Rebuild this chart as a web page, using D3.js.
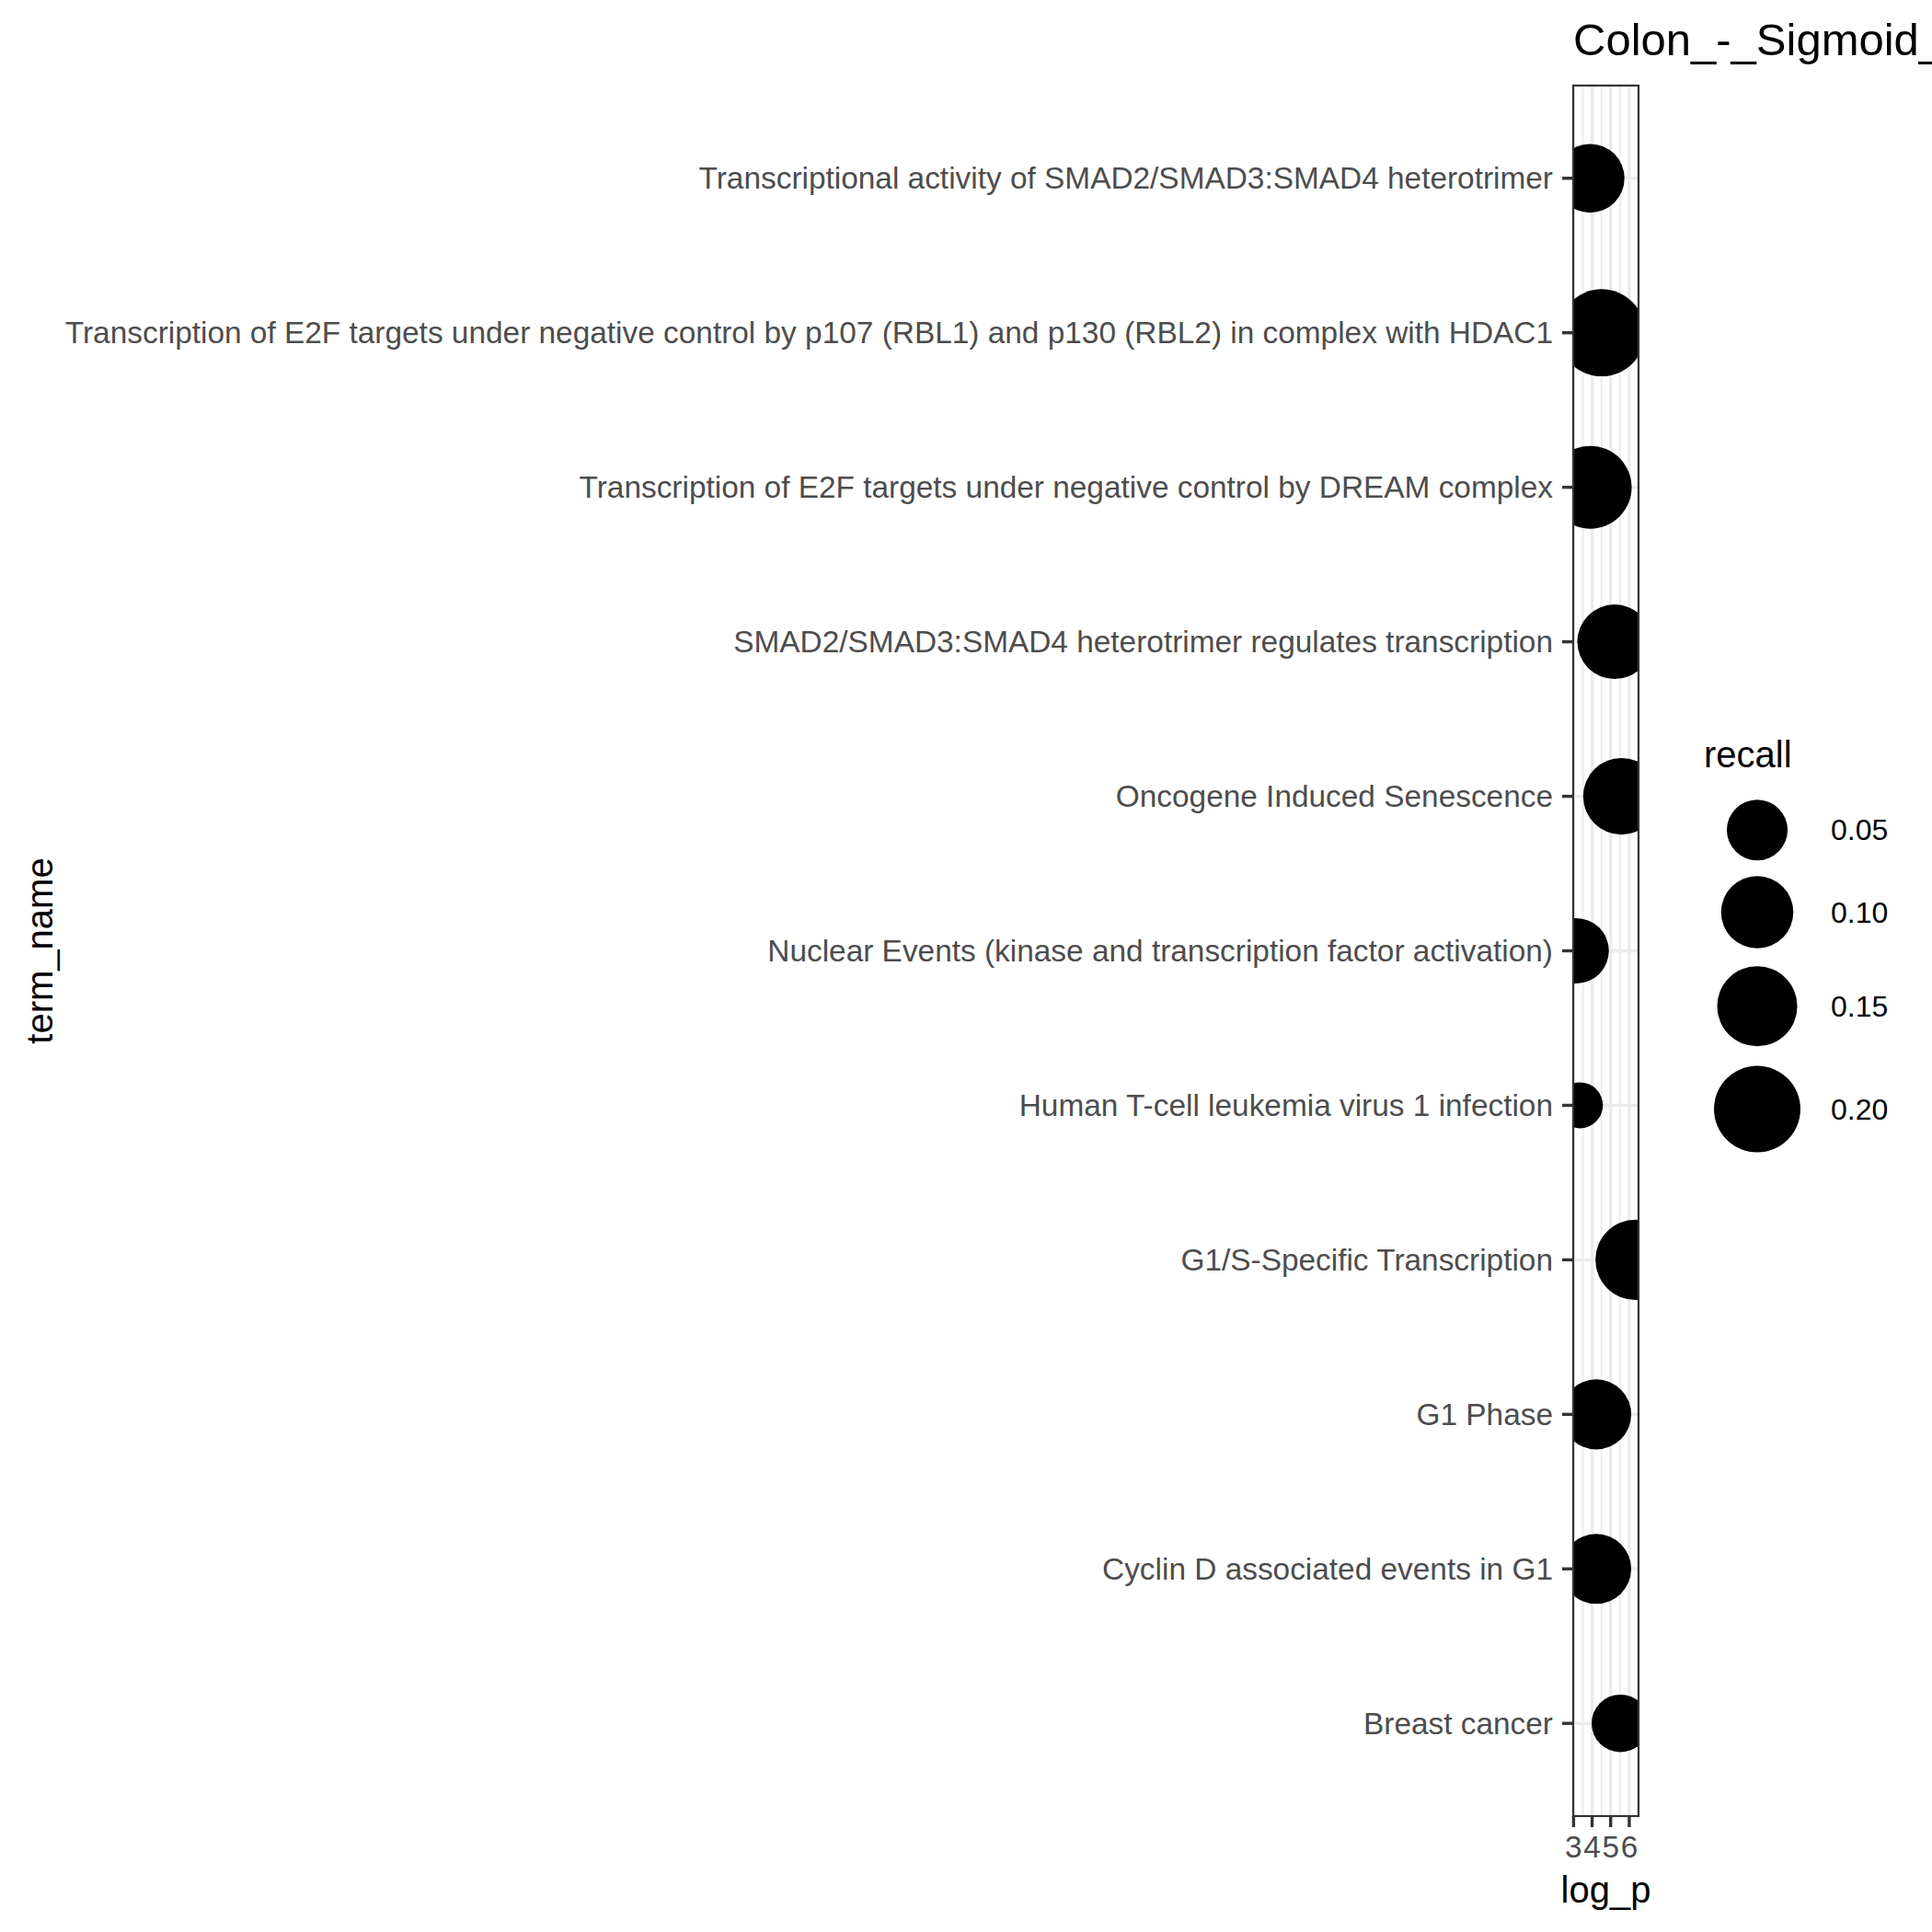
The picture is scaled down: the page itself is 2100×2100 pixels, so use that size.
<!DOCTYPE html>
<html>
<head>
<meta charset="utf-8">
<script src="https://cdn.jsdelivr.net/npm/d3@7"></script>
<style>
  html, body { margin: 0; padding: 0; background: #ffffff; }
  svg { display: block; }
  text { font-family: "Liberation Sans", Arial, Helvetica, sans-serif; }
</style>
</head>
<body>
<script>
// ---- data ----
const termNames = [
  "Transcriptional activity of SMAD2/SMAD3:SMAD4 heterotrimer",
  "Transcription of E2F targets under negative control by p107 (RBL1) and p130 (RBL2) in complex with HDAC1",
  "Transcription of E2F targets under negative control by DREAM complex",
  "SMAD2/SMAD3:SMAD4 heterotrimer regulates transcription",
  "Oncogene Induced Senescence",
  "Nuclear Events (kinase and transcription factor activation)",
  "Human T-cell leukemia virus 1 infection",
  "G1/S-Specific Transcription",
  "G1 Phase",
  "Cyclin D associated events in G1",
  "Breast cancer"
];
const logP   = [3.89, 4.51, 3.90, 5.21, 5.58, 3.14, 3.34, 6.34, 4.22, 4.22, 5.52];
const recall = [0.082, 0.206, 0.170, 0.113, 0.126, 0.067, 0.027, 0.151, 0.088, 0.088, 0.041];
const xTicks = [3, 4, 5, 6];
const legendBreaks = [0.05, 0.10, 0.15, 0.20];
const legendLabels = ["0.05", "0.10", "0.15", "0.20"];
const chartTitle = "Colon_-_Sigmoid_";
const xTitle = "log_p";
const yTitle = "term_name";
const sizeTitle = "recall";

// ---- layout ----
const W = 2100, H = 2100;
const panel = { left: 1710, right: 1781, top: 93, bottom: 1974 };
const axisFont = 33.4;

const svg = d3.select("body").append("svg")
  .attr("width", W).attr("height", H)
  .attr("viewBox", `0 0 ${W} ${H}`);

// x scale with ggplot-like 5% expansion
const [xmin, xmax] = d3.extent(logP);
const xpad = (xmax - xmin) * 0.05;
const x = d3.scaleLinear()
  .domain([xmin - xpad, xmax + xpad])
  .range([panel.left, panel.right]);

// discrete y with 0.6 expansion
const n = termNames.length;
const yIdx = d3.scaleLinear()
  .domain([-0.6, n - 1 + 0.6])
  .range([panel.top, panel.bottom]);
const y = name => yIdx(termNames.indexOf(name));

// size scale: area-proportional over data range (ggplot scale_size)
const [rmin, rmax] = [25, 47.35];
const rescale = d3.scaleLinear().domain(d3.extent(recall)).range([0, 1]);
const rScale = d3.scaleSqrt().domain([0, 1]).range([rmin, rmax]);
const r = v => rScale(Math.max(0, rescale(v)));

// panel background
svg.append("rect")
  .attr("x", panel.left).attr("y", panel.top)
  .attr("width", panel.right - panel.left).attr("height", panel.bottom - panel.top)
  .attr("fill", "#ffffff");

const grid = svg.append("g");
// minor vertical gridlines
const minorTicks = [];
const dom = x.domain();
for (let v = Math.ceil(dom[0] * 2) / 2; v <= dom[1]; v += 0.5) {
  if (Math.abs(v - Math.round(v)) > 1e-6) minorTicks.push(v);
}
grid.selectAll("line.minor").data(minorTicks).join("line")
  .attr("class", "minor")
  .attr("x1", d => x(d)).attr("x2", d => x(d))
  .attr("y1", panel.top).attr("y2", panel.bottom)
  .attr("stroke", "#EBEBEB").attr("stroke-width", 1.8);
// major vertical gridlines
grid.selectAll("line.majx").data(xTicks).join("line")
  .attr("class", "majx")
  .attr("x1", d => x(d)).attr("x2", d => x(d))
  .attr("y1", panel.top).attr("y2", panel.bottom)
  .attr("stroke", "#EBEBEB").attr("stroke-width", 3.5);
// major horizontal gridlines
grid.selectAll("line.majy").data(termNames).join("line")
  .attr("class", "majy")
  .attr("x1", panel.left).attr("x2", panel.right)
  .attr("y1", d => y(d)).attr("y2", d => y(d))
  .attr("stroke", "#EBEBEB").attr("stroke-width", 3.5);

// clip path
svg.append("clipPath").attr("id", "panelClip")
  .append("rect")
  .attr("x", panel.left).attr("y", panel.top)
  .attr("width", panel.right - panel.left).attr("height", panel.bottom - panel.top);

// points
svg.append("g").attr("clip-path", "url(#panelClip)")
  .selectAll("circle").data(termNames).join("circle")
  .attr("cx", (d, i) => x(logP[i]))
  .attr("cy", d => y(d))
  .attr("r", (d, i) => r(recall[i]))
  .attr("fill", "#000000");

// panel border
svg.append("rect")
  .attr("x", panel.left).attr("y", panel.top)
  .attr("width", panel.right - panel.left).attr("height", panel.bottom - panel.top)
  .attr("fill", "none").attr("stroke", "#333333").attr("stroke-width", 2.2);

// x axis
const xAxis = svg.append("g");
xAxis.selectAll("line").data(xTicks).join("line")
  .attr("x1", d => x(d)).attr("x2", d => x(d))
  .attr("y1", panel.bottom).attr("y2", panel.bottom + 12)
  .attr("stroke", "#333333").attr("stroke-width", 3.4);
xAxis.selectAll("text").data(xTicks).join("text")
  .attr("x", d => x(d)).attr("y", panel.bottom + 45)
  .attr("text-anchor", "middle")
  .attr("font-size", axisFont).attr("fill", "#4D4D4D")
  .text(d => d3.format("d")(d));

// y axis
const yAxis = svg.append("g");
yAxis.selectAll("line").data(termNames).join("line")
  .attr("x1", panel.left - 12).attr("x2", panel.left)
  .attr("y1", d => y(d)).attr("y2", d => y(d))
  .attr("stroke", "#333333").attr("stroke-width", 3.4);
yAxis.selectAll("text").data(termNames).join("text")
  .attr("x", panel.left - 22).attr("y", d => y(d))
  .attr("dy", "0.35em")
  .attr("text-anchor", "end")
  .attr("font-size", axisFont).attr("fill", "#4D4D4D")
  .text(d => d);

// axis titles
svg.append("text")
  .attr("x", (panel.left + panel.right) / 2).attr("y", 2068)
  .attr("text-anchor", "middle").attr("font-size", 40).attr("fill", "#000")
  .text(xTitle);
svg.append("text")
  .attr("transform", `translate(57, ${(panel.top + panel.bottom) / 2}) rotate(-90)`)
  .attr("text-anchor", "middle").attr("font-size", 40).attr("fill", "#000")
  .text(yTitle);

// title
svg.append("text")
  .attr("x", panel.left).attr("y", 60)
  .attr("font-size", 49).attr("fill", "#000")
  .text(chartTitle);

// legend
const keyH = legendBreaks.map(v => 2 * r(v) * 1.235);
const keyW = d3.max(keyH);
const titleH = 58;
const legendH = titleH + d3.sum(keyH);
const legendTop = (panel.top + panel.bottom) / 2 - legendH / 2;
const legendLeft = 1852;
const legend = svg.append("g");
legend.append("text")
  .attr("x", legendLeft).attr("y", legendTop + 31)
  .attr("font-size", 40).attr("fill", "#000")
  .text(sizeTitle);
const keyCenters = keyH.map((h, i) => legendTop + titleH + d3.sum(keyH.slice(0, i)) + h / 2);
legend.selectAll("circle").data(legendBreaks).join("circle")
  .attr("cx", legendLeft + keyW / 2)
  .attr("cy", (d, i) => keyCenters[i])
  .attr("r", d => r(d))
  .attr("fill", "#000");
legend.selectAll("text.lab").data(legendLabels).join("text")
  .attr("class", "lab")
  .attr("x", legendLeft + keyW + 22)
  .attr("y", (d, i) => keyCenters[i])
  .attr("dy", "0.35em")
  .attr("font-size", 32).attr("fill", "#000")
  .text(d => d);
</script>
</body>
</html>
